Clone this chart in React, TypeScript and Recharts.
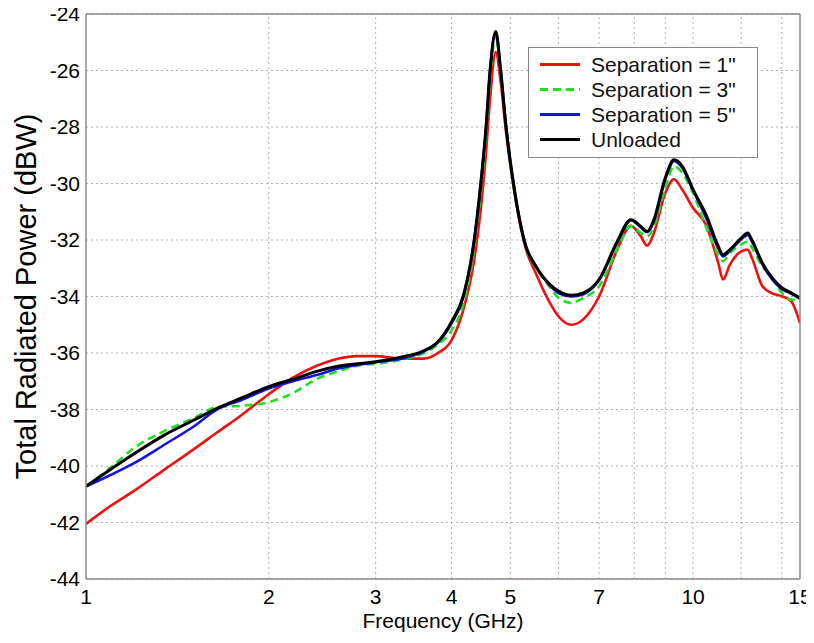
import React from 'react';
import { LineChart, Line, XAxis, YAxis, CartesianGrid, ReferenceLine, Legend } from 'recharts';

// frequency samples (GHz)
const freqGHz = [
  1, 1.1, 1.2, 1.35, 1.5, 1.65, 1.8, 2, 2.2, 2.4, 2.6, 2.8, 3, 3.3, 3.6, 3.8, 4, 4.18, 4.36, 4.47,
  4.56, 4.63, 4.73, 4.82, 4.92, 5.06, 5.3, 5.5, 5.8, 6, 6.3, 6.6, 7, 7.5, 7.9, 8.2, 8.4, 8.6, 9, 9.3,
  9.6, 10, 10.5, 11, 11.2, 11.5, 12, 12.3, 12.5, 13, 13.5, 14, 14.5, 15,
];

const sep1 = [
  -42.05, -41.4, -40.88, -40.11, -39.43, -38.79, -38.21, -37.46, -36.85, -36.45, -36.2, -36.11, -36.11,
  -36.2, -36.2, -36.0, -35.55, -34.5, -32.7, -30.9, -28.9, -27.0, -25.35, -26.4, -28.2, -30.1, -32.3,
  -33.15, -34.2, -34.7, -35.0, -34.8, -34.0, -32.34, -31.5, -31.87, -32.2, -31.81, -30.34, -29.85,
  -30.22, -30.87, -31.46, -32.81, -33.4, -32.87, -32.4, -32.34, -32.64, -33.63, -33.89, -33.99, -34.16,
  -34.94,
];

const sep3 = [
  -40.72, -40.04, -39.36, -38.75, -38.32, -37.91, -37.87, -37.74, -37.4, -36.92, -36.65, -36.45, -36.38,
  -36.24, -36.0, -35.7, -35.2, -34.3, -32.3, -30.3, -28.3, -26.3, -24.75, -26.1, -28.1, -30.1, -32.25,
  -32.95, -33.65, -34.05, -34.22, -34.05, -33.64, -32.34, -31.5, -31.75, -31.87, -31.58, -30.16, -29.39,
  -29.63, -30.34, -31.52, -32.52, -32.75, -32.46, -32.16, -32.05, -32.28, -32.93, -33.34, -33.87, -34.11,
  -34.13,
];

const sep5 = [
  -40.72, -40.31, -39.9, -39.23, -38.62, -37.98, -37.67, -37.26, -36.99, -36.78, -36.55, -36.42, -36.33,
  -36.2, -35.95, -35.62, -34.95, -34.05, -32.0, -30.0, -28.0, -26.0, -24.65, -26.0, -28.0, -30.0, -32.2,
  -32.92, -33.6, -33.88, -34.0, -33.92, -33.42, -32.1, -31.3, -31.55, -31.72, -31.4, -29.85, -29.2,
  -29.45, -30.25, -31.2, -32.3, -32.58, -32.38, -31.98, -31.82, -32.05, -32.85, -33.4, -33.74, -33.9,
  -34.08,
];

const unloaded = [
  -40.72, -40.11, -39.57, -38.89, -38.39, -37.94, -37.6, -37.19, -36.92, -36.65, -36.47, -36.38, -36.31,
  -36.15, -35.92, -35.6, -34.9, -34.0, -32.0, -30.0, -28.0, -26.0, -24.62, -26.0, -28.0, -30.0, -32.2,
  -32.9, -33.56, -33.81, -33.96, -33.87, -33.4, -32.05, -31.28, -31.52, -31.7, -31.34, -29.8, -29.16,
  -29.39, -30.22, -31.1, -32.22, -32.52, -32.34, -31.93, -31.75, -32.0, -32.81, -33.34, -33.69, -33.87,
  -34.05,
];

const xTicks = [1, 2, 3, 4, 5, 7, 10, 15];
const xGrid = [2, 3, 4, 5, 6, 7, 8, 9, 10, 12, 14];
const yTicks = [-44, -42, -40, -38, -36, -34, -32, -30, -28, -26, -24];

const series = [
  { key: 'sep1', name: 'Separation = 1"', color: '#f01010', dash: undefined },
  { key: 'sep3', name: 'Separation = 3"', color: '#1ee01e', dash: '8 5' },
  { key: 'sep5', name: 'Separation = 5"', color: '#1414e0', dash: undefined },
  { key: 'unloaded', name: 'Unloaded', color: '#000000', dash: undefined },
];

const data = freqGHz.map((f, i) => ({
  f,
  sep1: sep1[i],
  sep3: sep3[i],
  sep5: sep5[i],
  unloaded: unloaded[i],
}));

const FONT = '"Liberation Sans", Arial, Helvetica, sans-serif';
const AXIS = '#8a8a8a';
const GRID = '#b0b0b0';

const LegendBox = () => (
  <div
    style={{
      background: '#fff',
      border: `1.5px solid ${AXIS}`,
      width: 230,
      padding: '4px 0 5px 0',
      fontFamily: FONT,
      fontSize: 21,
      color: '#111',
      boxSizing: 'border-box',
    }}
  >
    {series.map((s) => (
      <div key={s.key} style={{ display: 'flex', alignItems: 'center', height: 25 }}>
        <svg width={62} height={25}>
          <line x1={11} x2={51} y1={12.5} y2={12.5} stroke={s.color} strokeWidth={3} strokeDasharray={s.dash} />
        </svg>
        <span style={{ lineHeight: '25px' }}>{s.name}</span>
      </div>
    ))}
  </div>
);

export default function App() {
  // chart covers the whole window, body margin pulled back
  return (
    <div style={{ width: 814, height: 640, margin: '-8px 0 0 -8px', background: '#fff' }}>
      <LineChart width={814} height={640} data={data} margin={{ top: 14, right: 14, bottom: 0, left: 0 }}>
        <CartesianGrid vertical={false} stroke={GRID} strokeDasharray="2 3" />
        {xGrid.map((v) => (
          <ReferenceLine key={v} x={v} stroke={GRID} strokeDasharray="2 3" />
        ))}
        <XAxis
          dataKey="f"
          type="number"
          scale="log"
          domain={[1, 15]}
          allowDataOverflow
          ticks={xTicks}
          interval={0}
          height={61}
          tickLine={false}
          tickSize={8}
          tickMargin={2}
          axisLine={{ stroke: AXIS, strokeWidth: 1.5 }}
          tick={{ fill: '#000', fontSize: 21, fontFamily: FONT }}
          label={{ value: 'Frequency (GHz)', position: 'insideBottom', offset: 12, fill: '#000', fontSize: 21, fontFamily: FONT }}
        />
        <XAxis
          xAxisId="top"
          orientation="top"
          mirror
          type="number"
          scale="log"
          domain={[1, 15]}
          allowDataOverflow
          ticks={xTicks}
          interval={0}
          height={8}
          tick={false}
          tickSize={8}
          tickLine={{ stroke: AXIS }}
          axisLine={{ stroke: AXIS, strokeWidth: 1.5 }}
        />
        <XAxis
          xAxisId="bottomIn"
          orientation="bottom"
          mirror
          type="number"
          scale="log"
          domain={[1, 15]}
          allowDataOverflow
          ticks={xTicks}
          interval={0}
          height={8}
          tick={false}
          tickSize={8}
          tickLine={{ stroke: AXIS }}
          axisLine={false}
        />
        <YAxis
          type="number"
          domain={[-44, -24]}
          allowDataOverflow
          ticks={yTicks}
          interval={0}
          width={86}
          tickLine={false}
          tickSize={3}
          tickMargin={3}
          axisLine={{ stroke: AXIS, strokeWidth: 1.5 }}
          tick={{ fill: '#000', fontSize: 21, fontFamily: FONT }}
          label={{
            value: 'Total Radiated Power (dBW)',
            angle: -90,
            position: 'insideLeft',
            offset: 26,
            fill: '#000',
            fontSize: 29,
            fontFamily: FONT,
            style: { textAnchor: 'middle' },
          }}
        />
        <YAxis
          yAxisId="right"
          orientation="right"
          mirror
          type="number"
          domain={[-44, -24]}
          allowDataOverflow
          ticks={yTicks}
          interval={0}
          width={8}
          tick={false}
          tickSize={8}
          tickLine={{ stroke: AXIS }}
          axisLine={{ stroke: AXIS, strokeWidth: 1.5 }}
        />
        <YAxis
          yAxisId="leftIn"
          orientation="left"
          mirror
          type="number"
          domain={[-44, -24]}
          allowDataOverflow
          ticks={yTicks}
          interval={0}
          width={8}
          tick={false}
          tickSize={8}
          tickLine={{ stroke: AXIS }}
          axisLine={false}
        />
        {series.map((s) => (
          <Line
            key={s.key}
            dataKey={s.key}
            name={s.name}
            type="monotone"
            stroke={s.color}
            strokeWidth={s.key === 'unloaded' ? 3 : 2.6}
            strokeDasharray={s.dash}
            dot={false}
            activeDot={false}
            isAnimationActive={false}
          />
        ))}
        <Legend
          layout="vertical"
          align="center"
          verticalAlign="middle"
          content={<LegendBox />}
          wrapperStyle={{ left: 528, top: 47, width: 232 }}
        />
      </LineChart>
    </div>
  );
}
